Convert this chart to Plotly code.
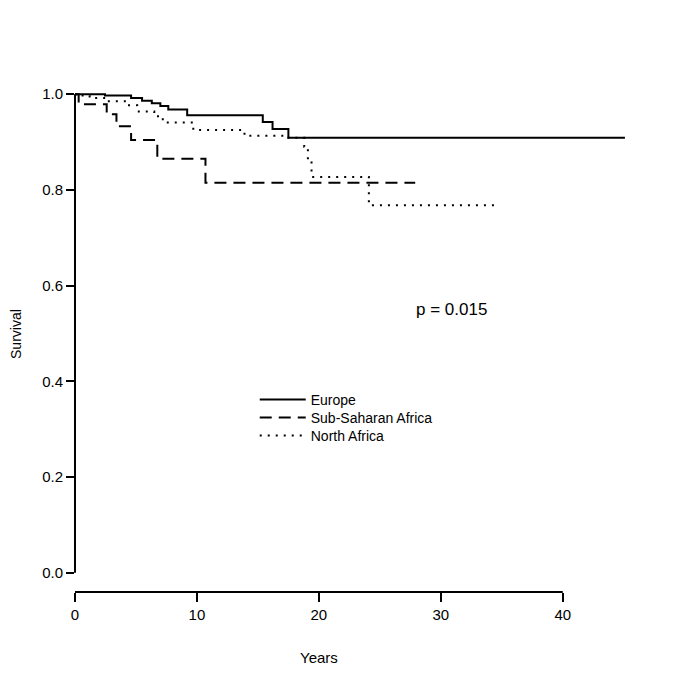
import plotly.graph_objects as go

# ---- data ----
europe_t = [0, 2.46, 4.6, 5.5, 6.3, 7.0, 7.65, 9.2, 15.4, 16.2, 17.5, 45.1]
europe_s = [1.0, 0.997, 0.992, 0.986, 0.981, 0.975, 0.968, 0.956, 0.942, 0.927, 0.909, 0.909]

ssa_t = [0, 0.3, 2.6, 3.4, 4.6, 6.75, 10.7, 27.9]
ssa_s = [1.0, 0.979, 0.958, 0.933, 0.904, 0.865, 0.815, 0.815]

na_t = [0, 0.3, 1.2, 2.6, 4.3, 5.1, 6.5, 7.2, 9.7, 13.9, 17.0, 18.8, 19.1, 19.4, 24.1, 34.6]
na_s = [1.0, 0.997, 0.992, 0.985, 0.977, 0.964, 0.954, 0.941, 0.925, 0.913, 0.909, 0.89, 0.86, 0.827, 0.768, 0.768]

x_ticks = [0, 10, 20, 30, 40]
y_ticks = [0.0, 0.2, 0.4, 0.6, 0.8, 1.0]
y_tick_text = ["0.0", "0.2", "0.4", "0.6", "0.8", "1.0"]
p_text = "p = 0.015"

FONT = "Liberation Sans, Arial, sans-serif"
BODY = 8  # default page margin of the html body

fig = go.Figure()
fig.add_trace(go.Scatter(x=europe_t, y=europe_s, mode="lines", name="Europe", legend="legend",
                         line=dict(shape="hv", color="black", width=2)))
fig.add_trace(go.Scatter(x=ssa_t, y=ssa_s, mode="lines", name="Sub-Saharan Africa", legend="legend2",
                         line=dict(shape="hv", color="black", width=2, dash="12px,7px")))
fig.add_trace(go.Scatter(x=na_t, y=na_s, mode="lines", name="North Africa", legend="legend3",
                         line=dict(shape="hv", color="black", width=2, dash="2px,6px")))

# detached R-style axis lines spanning only the tick range
fig.add_shape(type="line", xref="x", yref="paper", x0=x_ticks[0], x1=x_ticks[-1], y0=0, y1=0,
              line=dict(color="black", width=2))
fig.add_shape(type="line", xref="paper", yref="y", x0=0, x1=0, y0=y_ticks[0], y1=y_ticks[-1],
              line=dict(color="black", width=2))

fig.add_annotation(text=p_text, x=30.9, y=0.55, xref="x", yref="y", showarrow=False,
                   font=dict(family=FONT, size=17, color="black"))
fig.add_annotation(text="Years", x=20, y=-0.127, xref="x", yref="paper", showarrow=False,
                   xanchor="center", yanchor="middle",
                   font=dict(family=FONT, size=15, color="black"))
fig.add_annotation(text="Survival", x=-0.105, y=0.5, xref="paper", yref="y domain",
                   textangle=-90, showarrow=False, xanchor="center", yanchor="middle",
                   font=dict(family=FONT, size=14, color="black"))

leg_common = dict(x=0.317, xanchor="left", yanchor="middle", bgcolor="rgba(0,0,0,0)",
                  font=dict(family=FONT, size=14, color="black"), itemwidth=46)

fig.update_layout(
    width=685, height=685,
    margin=dict(l=75 - BODY, r=43 + BODY, t=75 - BODY, b=93 + BODY),
    paper_bgcolor="white", plot_bgcolor="white",
    font=dict(family=FONT, size=15, color="black"),
    showlegend=True,
    legend=dict(y=0.3714, **leg_common),
    legend2=dict(y=0.3366, **leg_common),
    legend3=dict(y=0.3017, **leg_common),
    xaxis=dict(range=[0, 46.5], showgrid=False, zeroline=False, showline=False,
               tickmode="array", tickvals=x_ticks, ticks="outside", ticklen=9,
               tickwidth=2, tickcolor="black",
               tickfont=dict(family=FONT, size=15, color="black")),
    yaxis=dict(range=[-0.04, 1.04], showgrid=False, zeroline=False, showline=False,
               tickmode="array", tickvals=y_ticks, ticktext=y_tick_text,
               ticks="outside", ticklen=8, tickwidth=2, tickcolor="black",
               tickfont=dict(family=FONT, size=15, color="black")),
)

fig.write_html("out.html")
